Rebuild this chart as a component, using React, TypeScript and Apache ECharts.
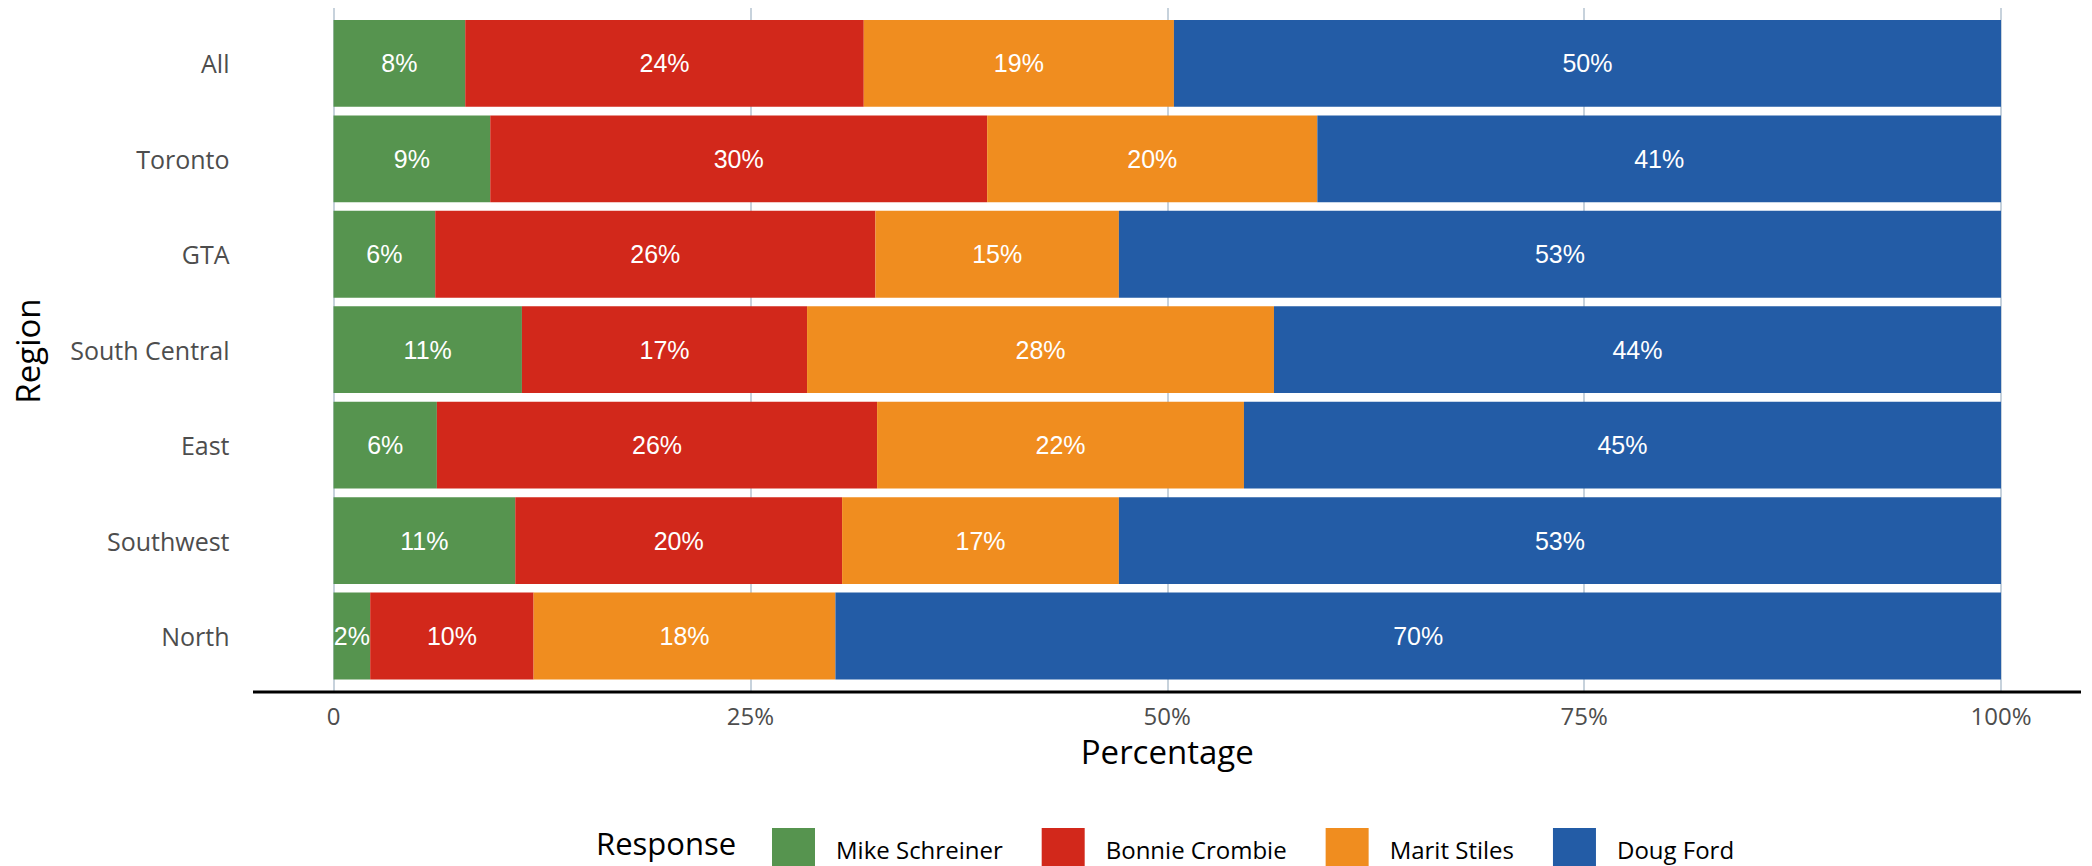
import React, { useEffect, useRef } from "react";
import * as echarts from "echarts";

const regions = ["All", "Toronto", "GTA", "South Central", "East", "Southwest", "North"];
const seriesNames = ["Mike Schreiner", "Bonnie Crombie", "Marit Stiles", "Doug Ford"];
const schreiner = [7.9, 9.4, 6.1, 11.3, 6.2, 10.9, 2.2];
const crombie = [23.9, 29.8, 26.4, 17.1, 26.4, 19.6, 9.8];
const stiles = [18.6, 19.8, 14.6, 28.0, 22.0, 16.6, 18.1];
const ford = [49.6, 41.0, 52.9, 43.6, 45.4, 52.9, 69.9];
const colors = ["#56944f", "#d2281b", "#f08d1f", "#235ca6"];
const xTicks = [0, 25, 50, 75, 100];

const AXIS_FONT = "'Open Sans', 'DejaVu Sans', sans-serif";
const BAR_FONT = "'Liberation Sans', Arial, sans-serif";

export default function App() {
  const ref = useRef<HTMLDivElement>(null);
  useEffect(() => {
    if (!ref.current) return;
    const chart = echarts.init(ref.current, undefined, { renderer: "svg" });
    const values = [schreiner, crombie, stiles, ford];
    const option: any = {
      animation: false,
      backgroundColor: "#ffffff",
      grid: [
        { left: 333.5, right: 91, top: 8, bottom: 174, containLabel: false },
        { left: 333.5, right: 91, top: 15.7, height: 668, containLabel: false },
      ],
      xAxis: [
        {
          type: "value",
          gridIndex: 0,
          min: xTicks[0],
          max: xTicks[xTicks.length - 1],
          interval: 25,
          axisLine: { show: false },
          axisTick: { show: false },
          splitLine: { show: true, lineStyle: { color: "#b4c3d1", width: 1.5 } },
          axisLabel: {
            margin: 11,
            fontSize: 24,
            color: "#4d4d4d",
            fontFamily: AXIS_FONT,
            formatter: (v: number) => (v === 0 ? "0" : v + "%"),
          },
          name: "Percentage",
          nameLocation: "middle",
          nameGap: 43,
          nameTextStyle: { fontSize: 33, color: "#000", fontFamily: AXIS_FONT },
        },
        {
          type: "value",
          gridIndex: 1,
          min: 0,
          max: 100,
          show: false,
        },
      ],
      yAxis: [
        { type: "value", gridIndex: 0, show: false },
        {
          type: "category",
          gridIndex: 1,
          data: regions,
          inverse: true,
          axisLine: { show: false },
          axisTick: { show: false },
          splitLine: { show: false },
          axisLabel: {
            margin: 104,
            fontSize: 25,
            color: "#4d4d4d",
            fontFamily: AXIS_FONT,
          },
        },
      ],
      legend: {
        data: seriesNames,
        left: 767,
        top: 823,
        orient: "horizontal",
        icon: "rect",
        itemWidth: 43,
        itemHeight: 43,
        itemGap: 39,
        selectedMode: false,
        textStyle: {
          fontSize: 24,
          color: "#000",
          fontFamily: AXIS_FONT,
          padding: [0, 0, 0, 16],
        },
      },
      graphic: [
        {
          type: "line",
          shape: { x1: 253, y1: 692, x2: 2081, y2: 692 },
          style: { stroke: "#000", lineWidth: 3 },
          z: 100,
        },
        {
          type: "text",
          x: 27,
          y: 351,
          rotation: Math.PI / 2,
          style: {
            text: "Region",
            fontSize: 33,
            fill: "#000",
            fontFamily: AXIS_FONT,
            align: "center",
            verticalAlign: "middle",
          },
        },
        {
          type: "text",
          x: 596,
          y: 843,
          style: {
            text: "Response",
            fontSize: 31,
            fill: "#000",
            fontFamily: AXIS_FONT,
            align: "left",
            verticalAlign: "middle",
          },
        },
      ],
      series: seriesNames.map((name, i) => ({
        name,
        type: "bar",
        stack: "total",
        xAxisIndex: 1,
        yAxisIndex: 1,
        barCategoryGap: "9%",
        data: values[i],
        itemStyle: { color: colors[i] },
        label: {
          show: true,
          position: "inside",
          color: "#ffffff",
          fontSize: 25,
          fontFamily: BAR_FONT,
          formatter: (p: any) => Math.round(p.value) + "%",
        },
      })),
    };
    chart.setOption(option);
    return () => chart.dispose();
  }, []);
  return (
    <div
      ref={ref}
      style={{ position: "fixed", left: 0, top: 0, width: 2092, height: 866 }}
    />
  );
}
